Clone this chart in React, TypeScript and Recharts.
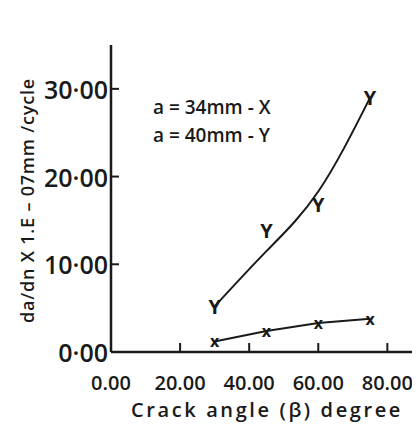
import { ComposedChart, Line, XAxis, YAxis, Label } from 'recharts';

const angles = [30, 45, 60, 75];
// measured points
const rate34 = [1.2, 2.4, 3.3, 3.8];
const rate40 = [5.2, 13.8, 16.8, 29.0];
// drawn trend curve for a = 40mm at the same angles
const curve40 = [5.2, 11.5, 18.3, 29.0];
const xTicks = [0, 20, 40, 60, 80];
const yTicks = [0, 10, 20, 30];

const series34 = angles.map((a, i) => ({ angle: a, rate: rate34[i] }));
const series40 = angles.map((a, i) => ({ angle: a, rate: rate40[i] }));
const trend40 = angles.map((a, i) => ({ angle: a, rate: curve40[i] }));

const FONT = '"Open Sans", "DejaVu Sans", sans-serif';
const INK = '#1a1a1a';

function XTick({ x, y, payload }: any) {
  return (
    <g>
      <line x1={x} y1={y} x2={x} y2={y - 9} stroke={INK} strokeWidth={2} />
      <text x={x} y={y + 30} textAnchor="middle" dominantBaseline="central" fontSize={20} fontFamily={FONT} fontWeight={600} fill={INK}>
        {payload.value.toFixed(2)}
      </text>
    </g>
  );
}

function YTick({ x, y, payload }: any) {
  return (
    <g>
      <line x1={x} y1={y} x2={x + 8} y2={y} stroke={INK} strokeWidth={2} />
      <text x={x - 3} y={y} textAnchor="end" dominantBaseline="central" fontSize={25} fontFamily={FONT} fontWeight={600} fill={INK}>
        {`${payload.value}·00`}
      </text>
    </g>
  );
}

function markerDot(ch: string, size: number) {
  return (props: any) => (
    <text
      key={`${ch}-${props.index}`}
      x={props.cx}
      y={props.cy}
      textAnchor="middle"
      dominantBaseline="central"
      fontSize={size}
      fontFamily={FONT}
      fontWeight={700}
      fill={INK}
    >
      {ch}
    </text>
  );
}

export default function App() {
  return (
    <div style={{ width: 412, height: 424, background: '#fff' }}>
      <ComposedChart width={412} height={424} margin={{ top: 37, right: 5, bottom: 10, left: 23 }}>
        <XAxis
          type="number"
          dataKey="angle"
          domain={[0, 88]}
          ticks={xTicks}
          tickSize={0}
          tickMargin={0}
          tickLine={false}
          tick={<XTick />}
          height={70}
          axisLine={{ stroke: INK, strokeWidth: 2.5 }}
          interval={0}
        >
          <Label
            content={({ viewBox }: any) => (
              <text
                x={viewBox.x + viewBox.width / 2 + 4}
                y={viewBox.y + 57}
                textAnchor="middle"
                dominantBaseline="central"
                fontSize={20}
                fontFamily={FONT}
                fontWeight={600}
                letterSpacing={2.6}
                fill={INK}
              >
                Crack angle (β) degree
              </text>
            )}
          />
        </XAxis>
        <YAxis
          type="number"
          dataKey="rate"
          domain={[0, 35]}
          ticks={yTicks}
          tickSize={0}
          tickMargin={0}
          tickLine={false}
          tick={<YTick />}
          width={80}
          axisLine={{ stroke: INK, strokeWidth: 2.5 }}
          interval={0}
        >
          <Label
            content={({ viewBox }: any) => {
              const cx = 19;
              const cy = viewBox.y + viewBox.height / 2 + 2;
              return (
                <text
                  x={cx}
                  y={cy}
                  transform={`rotate(-90 ${cx} ${cy})`}
                  textAnchor="middle"
                  dominantBaseline="central"
                  fontSize={18}
                  fontFamily={FONT}
                  fontWeight={600}
                  letterSpacing={0.8}
                  fill={INK}
                >
                  da/dn X 1.E – 07mm /cycle
                </text>
              );
            }}
          />
        </YAxis>
        <Line
          data={series34}
          dataKey="rate"
          type="linear"
          stroke={INK}
          strokeWidth={2}
          dot={markerDot('x', 16)}
          activeDot={false}
          isAnimationActive={false}
        />
        <Line
          data={trend40}
          dataKey="rate"
          type="natural"
          stroke={INK}
          strokeWidth={2}
          dot={false}
          activeDot={false}
          isAnimationActive={false}
        />
        <Line
          data={series40}
          dataKey="rate"
          stroke="none"
          dot={markerDot('Y', 20)}
          activeDot={false}
          isAnimationActive={false}
        />
        <text x={145} y={99} dominantBaseline="central" fontSize={19} fontFamily={FONT} fontWeight={600} fill={INK}>
          a = 34mm - X
        </text>
        <text x={145} y={127} dominantBaseline="central" fontSize={19} fontFamily={FONT} fontWeight={600} fill={INK}>
          a = 40mm - Y
        </text>
      </ComposedChart>
    </div>
  );
}
